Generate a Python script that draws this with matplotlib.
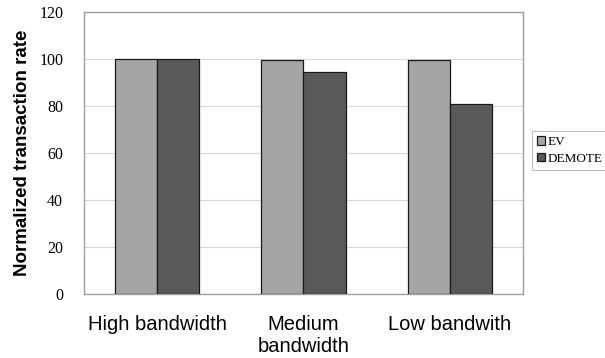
import numpy as np
import matplotlib
matplotlib.use("Agg")
import matplotlib.pyplot as plt

categories = ["High bandwidth", "Medium\nbandwidth", "Low bandwith"]
ev = [100, 99.4, 99.7]
demote = [100, 94.4, 80.8]
yticks = [0, 20, 40, 60, 80, 100, 120]

fig = plt.figure(figsize=(6.05, 3.58), dpi=100)
ax = fig.add_axes([0.1388, 0.1788, 0.7257, 0.7877])

x = np.arange(len(categories))
w = 0.287
ax.bar(x - w / 2, ev, w, color="#a5a5a5", edgecolor="#1a1a1a", linewidth=0.9, label="EV", zorder=3)
ax.bar(x + w / 2, demote, w, color="#595959", edgecolor="#1a1a1a", linewidth=0.9, label="DEMOTE", zorder=3)

ax.set_xlim(-0.5, 2.5)
ax.set_ylim(0, 120)
ax.set_yticks(yticks)
ax.set_yticklabels([str(v) for v in yticks], family="Liberation Serif", fontsize=11.5)
ax.set_xticks(x)
ax.set_xticklabels(categories, family="Liberation Sans", fontsize=14.5, linespacing=1.2)
ax.tick_params(axis="both", length=0)
ax.tick_params(axis="y", pad=15)
ax.tick_params(axis="x", pad=15)
ax.grid(axis="y", color="#d9d9d9", linewidth=0.8, zorder=0)
for s in ax.spines.values():
    s.set_color("#a0a0a0")
    s.set_linewidth(1.0)

ax.set_ylabel("Normalized transaction rate", family="Liberation Sans", fontweight="bold", fontsize=13.5)
ax.yaxis.set_label_coords(-0.12, 0.5)

# legend anchored in figure pixels, like the reference (frame runs off the right edge)
leg = fig.legend(loc="upper left", bbox_to_anchor=(532 / 605, 1 - 131 / 358),
                 prop={"family": "Liberation Serif", "size": 9.5},
                 frameon=True, fancybox=False, edgecolor="#b0b0b0", handlelength=0.6, handleheight=0.6,
                 handletextpad=0.15, borderpad=0.4, labelspacing=0.35, borderaxespad=0)
leg.get_frame().set_linewidth(0.8)

fig.savefig("out.png", dpi=100)
